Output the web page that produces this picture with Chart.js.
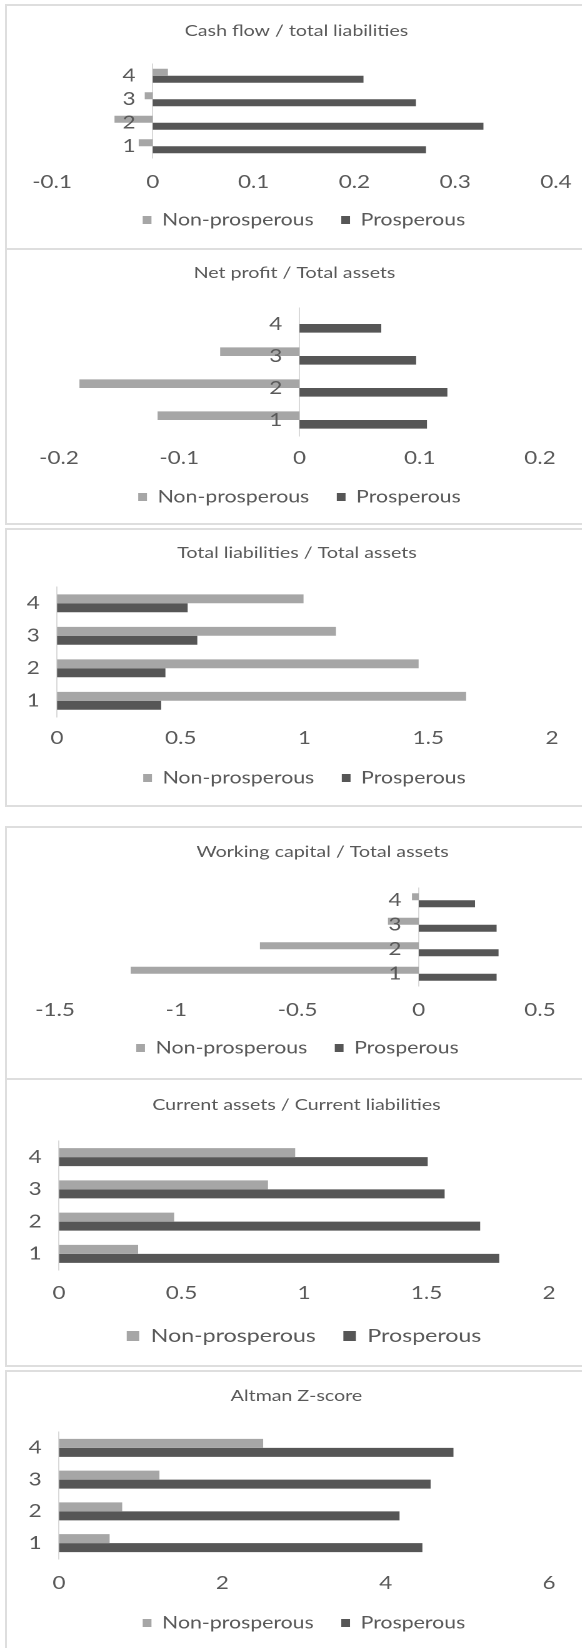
<!DOCTYPE html>
<html>
<head>
<meta charset="utf-8">
<script src="https://cdn.jsdelivr.net/npm/chart.js@4.4.1/dist/chart.umd.min.js"></script>
<style>
  html, body { margin: 0; padding: 0; background: #fff; overflow: hidden; }
  body { width: 582px; height: 1648px; position: relative; }
  .panel { position: absolute; left: 5px; width: 620px; box-sizing: border-box; border: 2px solid #dedede; }
  .stretch { position: absolute; left: 0; transform-origin: 0 0; }
</style>
</head>
<body>
<script>
// categories and series (category 1 .. 4)
const categories = ['1', '2', '3', '4'];
const seriesNames = ['Non-prosperous', 'Prosperous'];

const cashFlowNon = [-0.014, -0.038, -0.008, 0.015];
const cashFlowPros = [0.271, 0.328, 0.261, 0.209];
const netProfitNon = [-0.118, -0.183, -0.066, 0];
const netProfitPros = [0.106, 0.123, 0.097, 0.068];
const liabilitiesNon = [1.653, 1.461, 1.127, 0.996];
const liabilitiesPros = [0.421, 0.438, 0.567, 0.528];
const workingCapNon = [-1.188, -0.655, -0.127, -0.028];
const workingCapPros = [0.321, 0.329, 0.321, 0.232];
const currentRatioNon = [0.323, 0.47, 0.853, 0.964];
const currentRatioPros = [1.797, 1.719, 1.574, 1.505];
const zScoreNon = [0.62, 0.774, 1.23, 2.5];
const zScorePros = [4.45, 4.17, 4.55, 4.83];

// value axis: [min, max, step]
const cashFlowAxis = [-0.1, 0.4, 0.1];
const netProfitAxis = [-0.2, 0.2, 0.1];
const liabilitiesAxis = [0, 2, 0.5];
const workingCapAxis = [-1.5, 0.5, 0.5];
const currentRatioAxis = [0, 2, 0.5];
const zScoreAxis = [0, 6, 2];

const titles = [
  'Cash flow / total liabilities',
  'Net profit / Total assets',
  'Total liabilities / Total assets',
  'Working capital / Total assets',
  'Current assets / Current liabilities',
  'Altman Z-score'
];

const STRETCH = 1.25;   // the source picture is widened horizontally
const CANVAS_W = 480;
const TEXT = '#595959';
const LIGHT = '#a6a6a6';
const DARK = '#565656';

// page layout of each panel (px in the page)
// titleShift: spaces added before (+) or after (-) the title to nudge it sideways
const panels = [
  { title: titles[0], non: cashFlowNon, pros: cashFlowPros, axis: cashFlowAxis,
    top: 4, bottom: 250, titleY: 31, plotTop: 64, plotBottom: 158, tickY: 182, legendY: 220,
    left: 52, right: 556, cat: 0.6, legendFont: 17, titleShift: -3 },
  { title: titles[1], non: netProfitNon, pros: netProfitPros, axis: netProfitAxis,
    top: 248, bottom: 525, titleY: 273, plotTop: 308, plotBottom: 436, tickY: 458, legendY: 497,
    left: 59, right: 540, cat: 0.54, legendFont: 17, titleShift: -2 },
  { title: titles[2], non: liabilitiesNon, pros: liabilitiesPros, axis: liabilitiesAxis,
    top: 528, bottom: 807, titleY: 553, plotTop: 587, plotBottom: 717, tickY: 738, legendY: 778,
    left: 57, right: 552, cat: 0.55, legendFont: 17, titleShift: -3 },
  { title: titles[3], non: workingCapNon, pros: workingCapPros, axis: workingCapAxis,
    top: 826, bottom: 1080, titleY: 852, plotTop: 888, plotBottom: 986, tickY: 1010, legendY: 1048,
    left: 55, right: 540, cat: 0.57, legendFont: 17, titleShift: 10 },
  { title: titles[4], non: currentRatioNon, pros: currentRatioPros, axis: currentRatioAxis,
    top: 1078, bottom: 1367, titleY: 1105, plotTop: 1141, plotBottom: 1270, tickY: 1293, legendY: 1336,
    left: 59, right: 549, cat: 0.56, legendFont: 18.5, titleShift: -3 },
  { title: titles[5], non: zScoreNon, pros: zScorePros, axis: zScoreAxis,
    top: 1370, bottom: 1670, titleY: 1396, plotTop: 1432, plotBottom: 1559, tickY: 1583, legendY: 1623,
    left: 59, right: 549, cat: 0.57, legendFont: 17, titleShift: -3 }
];

function makePanel(cfg) {
  const box = document.createElement('div');
  box.className = 'panel';
  box.style.top = cfg.top + 'px';
  box.style.height = (cfg.bottom - cfg.top) + 'px';
  document.body.appendChild(box);

  const H = cfg.bottom - cfg.top;
  const wrap = document.createElement('div');
  wrap.className = 'stretch';
  wrap.style.top = cfg.top + 'px';
  wrap.style.width = CANVAS_W + 'px';
  wrap.style.height = H + 'px';
  wrap.style.transform = 'scaleX(' + STRETCH + ')';
  const canvas = document.createElement('canvas');
  wrap.appendChild(canvas);
  document.body.appendChild(wrap);

  const tf = 15.7, xf = 18, yf = 18, lf = cfg.legendFont;
  const itemGap = 22;
  const padTop = cfg.titleY - cfg.top - 0.6 * tf;
  const titleGap = cfg.plotTop - cfg.top - padTop - 1.2 * tf;
  const padBottom = cfg.bottom - cfg.legendY - 10 - lf / 2;
  const legendH = lf + itemGap + 10;
  const axisH = cfg.bottom - cfg.plotBottom - padBottom - legendH;
  const tickPad = cfg.tickY - cfg.plotBottom - 0.6 * xf;
  const shift = cfg.titleShift || 0;
  const titleText = shift > 0 ? ' '.repeat(shift) + cfg.title : cfg.title + ' '.repeat(-shift);

  new Chart(canvas, {
    type: 'bar',
    data: {
      labels: categories,
      datasets: [
        { label: seriesNames[0], data: cfg.non, backgroundColor: LIGHT },
        { label: seriesNames[1], data: cfg.pros, backgroundColor: DARK }
      ]
    },
    options: {
      indexAxis: 'y',
      responsive: true,
      maintainAspectRatio: false,
      animation: false,
      devicePixelRatio: 2,
      datasets: { bar: { barPercentage: 1, categoryPercentage: cfg.cat } },
      layout: {
        padding: { top: padTop, bottom: padBottom, left: cfg.left / STRETCH, right: CANVAS_W - cfg.right / STRETCH }
      },
      scales: {
        x: {
          type: 'linear',
          min: cfg.axis[0],
          max: cfg.axis[1],
          ticks: {
            stepSize: cfg.axis[2], color: TEXT, padding: tickPad,
            font: { family: 'Lato', size: xf },
            callback: function (v) { return String(+v.toFixed(3)); }
          },
          grid: { display: false, drawTicks: false },
          border: { display: false },
          afterFit: function (s) { s.height = axisH; }
        },
        y: {
          type: 'category',
          reverse: true,
          position: { x: 0 },
          ticks: {
            color: TEXT, z: 1, autoSkip: false, font: { family: 'Lato', size: yf },
            // axis placed at x = 0 draws labels flush with the line, so pad them
            callback: function (v) { return this.getLabelForValue(v) + '   '; }
          },
          grid: { display: false, drawTicks: false },
          border: { display: true, color: '#d9d9d9', width: 1 }
        }
      },
      plugins: {
        title: {
          display: true,
          text: titleText,
          color: TEXT,
          font: { family: 'Lato', size: tf, weight: 'normal' },
          padding: { top: 0, bottom: titleGap }
        },
        legend: {
          position: 'bottom',
          labels: {
            color: TEXT,
            boxWidth: (lf > 18 ? 10 : 7),
            boxHeight: (lf > 18 ? 10 : 8),
            padding: itemGap,
            font: { family: 'Lato', size: lf }
          }
        },
        tooltip: { enabled: false }
      }
    }
  });
}

panels.forEach(makePanel);
</script>
</body>
</html>
